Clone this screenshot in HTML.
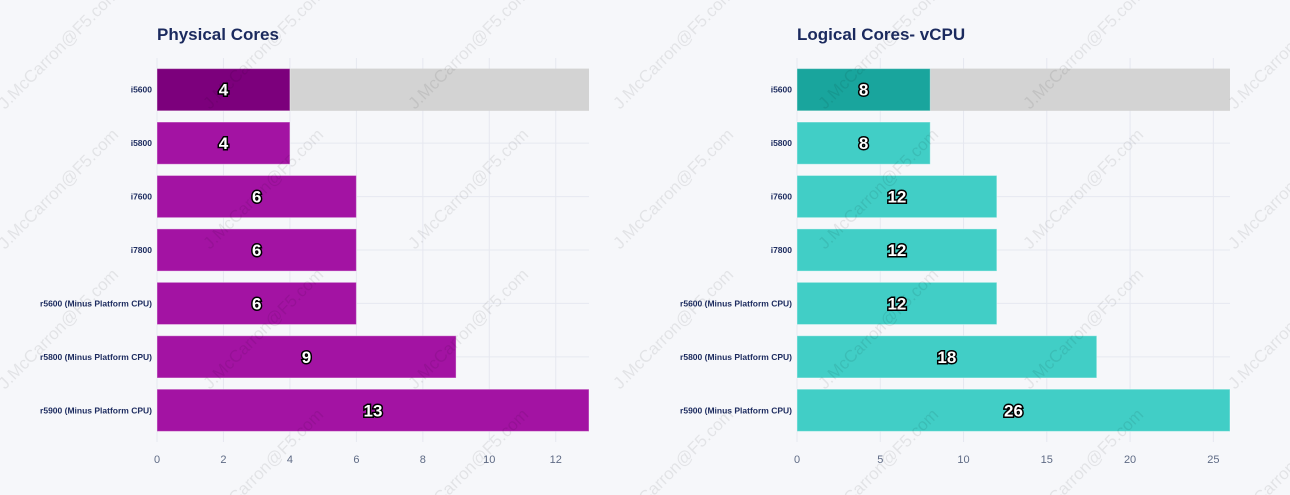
<!DOCTYPE html>
<html><head><meta charset="utf-8"><style>
body{margin:0;background:#f6f7fa;width:1290px;height:495px;overflow:hidden;font-family:"Liberation Sans",Arial,sans-serif}
svg{display:block;overflow:hidden}
</style></head><body>
<svg id="c" width="1290" height="495" xmlns="http://www.w3.org/2000/svg"></svg>
<script>
const categories=["i5600","i5800","i7600","i7800","r5600 (Minus Platform CPU)","r5800 (Minus Platform CPU)","r5900 (Minus Platform CPU)"];
const physicalValues=[4,4,6,6,6,9,13];
const logicalValues=[8,8,12,12,12,18,26];
const physicalTicks=[0,2,4,6,8,10,12];
const logicalTicks=[0,5,10,15,20,25];
const NS="http://www.w3.org/2000/svg";
const svg=document.getElementById("c");
function mk(t,a,p){const e=document.createElementNS(NS,t);for(const k in a)e.setAttribute(k,a[k]);(p||svg).appendChild(e);return e;}
function panel(o){
  const g=mk("g",{});
  
  
  const x0=o.x0,x1=o.x1,top=63,bot=437;
  const xs=v=>x0+(v/o.max)*(x1-x0);
  const band=(bot-top)/categories.length;
  const ys=i=>top+i*band;
  const t=mk("text",{x:x0,y:40,fill:"#1b2a5e","font-size":17,"font-weight":"bold"},g);t.textContent=o.title;
  
  o.ticks.forEach(v=>{
    const l=mk("line",{x1:xs(v),x2:xs(v),y1:58,y2:442,stroke:"#e6e8f0","stroke-width":1},g);
    
    const tx=mk("text",{x:xs(v),y:463,"text-anchor":"middle",fill:"#5f6b85","font-size":11},g);tx.textContent=v;
    
  });
  categories.forEach((c,i)=>{
    const l=mk("line",{x1:x0,x2:x1,y1:ys(i)+band/2,y2:ys(i)+band/2,stroke:"#e6e8f0"},g);
    
  });
  categories.forEach((c,i)=>{
    const y=ys(i)+band*0.105,h=band*0.79,v=o.vals[i];
    if(i===0){const bg=mk("rect",{x:x0,y:y,width:x1-x0,height:h,fill:"#d3d3d3"},g);
      }
    const r=mk("rect",{x:x0,y:y,width:xs(v)-x0,height:h,fill:i===0?o.dark:o.color,stroke:"#fff","stroke-opacity":0.4},g);
    
    const lab=mk("text",{x:x0-5,y:y+h/2+3,"text-anchor":"end",fill:"#1b2a5e","font-size":8.5,"font-weight":"bold"},g);lab.textContent=c;
    
    const vl=mk("text",{x:(x0+xs(v))/2,y:y+h/2+6,"text-anchor":"middle",fill:"#fff",stroke:"#000","stroke-width":3,"paint-order":"stroke","font-size":17,"font-weight":"bold"},g);vl.textContent=v;
    
  });
}
panel({name:"physical-cores-chart",title:"Physical Cores",x0:157,x1:589,max:13,vals:physicalValues,ticks:physicalTicks,color:"#a313a3",dark:"#7c007c"});
panel({name:"logical-cores-chart",title:"Logical Cores- vCPU",x0:797,x1:1230,max:26,vals:logicalValues,ticks:logicalTicks,color:"#41cec6",dark:"#19a59d"});
const wm=mk("g",{});

[[5,110],[210,110],[415,110],[620,110],[825,110],[1030,110],[1235,110],[5,250],[210,250],[415,250],[620,250],[825,250],[1030,250],[1235,250],[5,390],[210,390],[415,390],[620,390],[825,390],[1030,390],[1235,390],[210,530],[415,530],[620,530],[825,530],[1030,530],[1235,530]].forEach(p=>{
  const t=mk("text",{x:p[0],y:p[1],fill:"#000","fill-opacity":0.08,"font-size":17,transform:`rotate(-45 ${p[0]} ${p[1]})`},wm);t.textContent="J.McCarron@F5.com";
});
</script>
</body></html>
